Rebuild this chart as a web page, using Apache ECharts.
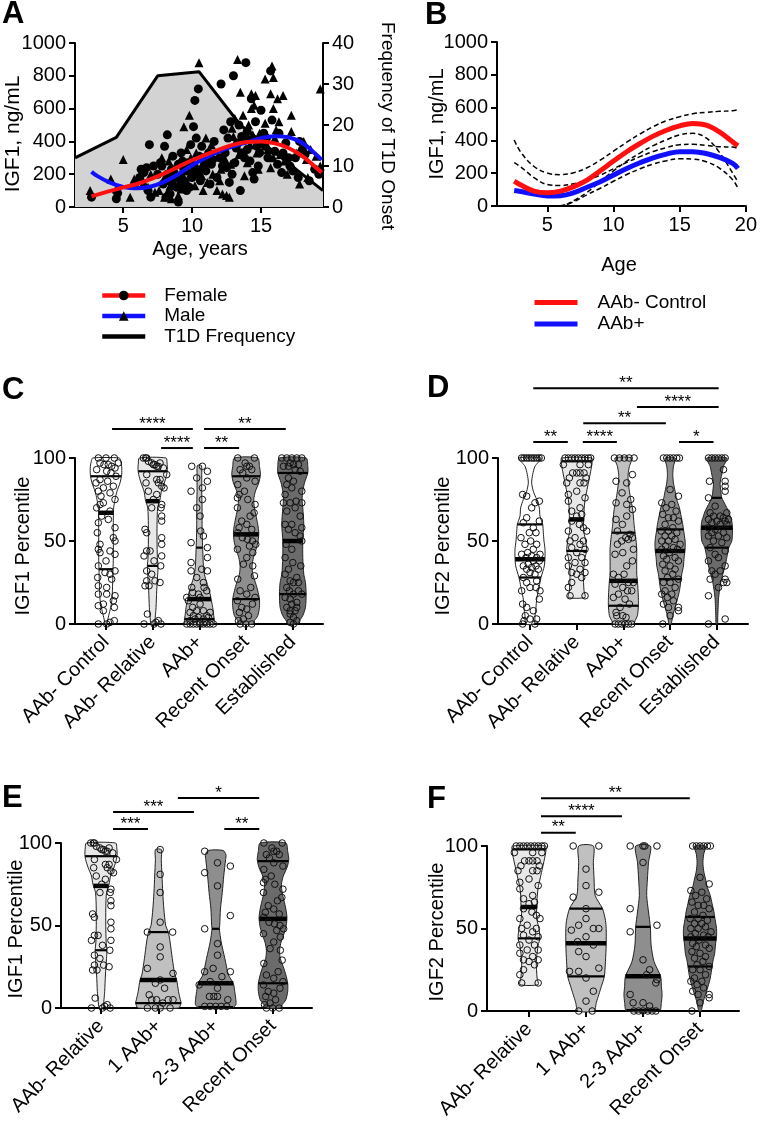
<!DOCTYPE html>
<html><head><meta charset="utf-8">
<script src="https://cdn.jsdelivr.net/npm/echarts@6/dist/echarts.min.js"></script>
<style>html,body{margin:0;padding:0;background:#fff}#c{width:760px;height:1123px}</style>
</head><body><div id="c"></div>
<script>
// ---------------- Panel A data ----------------
const ageTicksA = [5, 10, 15];
const t1dAges = [1.5, 4.5, 7.5, 10.5, 13.5, 16.5, 19.5];
const t1dFreq = [12, 17, 32, 33, 20, 12, 4];
const femalePts = [
[2.7,60],[4.5,50],[4.6,85],
[5.8,130],[6.2,180],[6.5,210],[6.7,240],[6.8,100],[6.9,380],[7.0,60],[7.2,250],[6.3,230],
[7.5,200],[7.7,270],[7.8,250],[8.0,370],[8.2,440],[8.3,160],[8.5,230],[8.6,310],[8.8,180],[8.9,120],[9.0,30],[9.0,260],[8.4,80],[7.9,140],[8.1,60],
[9.2,330],[9.4,230],[9.5,150],[9.7,270],[9.8,120],[10.0,200],[10.2,650],[10.45,720],[10.1,490],[10.3,420],[10.5,310],[10.7,370],[10.9,260],[9.6,100],[10.0,180],[10.6,160],[11.0,220],[9.3,280],[9.9,380],
[11.5,290],[11.8,180],[12.1,750],[12.3,470],[12.5,240],[12.6,420],[12.8,520],[13.0,800],[12.9,200],[11.6,400],[12.2,250],[13.2,360],
[13.5,100],[13.9,880],[13.4,500],[13.6,430],[13.8,300],[14.0,350],[14.2,280],[14.4,210],[14.6,520],[14.8,250],[15.0,590],[14.3,660],[13.3,390],[14.1,410],[14.7,370],[14.5,170],
[15.7,830],[15.3,370],[15.5,300],[15.8,530],[16.0,340],[16.2,260],[16.5,210],[16.8,390],[15.2,450],[16.3,450],[17.0,300],[17.3,220],
[17.5,300],[17.8,400],[18.2,320],[18.5,160],[18.9,230],[19.2,200],[17.7,180],[18.0,350],
[8.2,200],[8.7,210],[9.1,170],[9.3,140],[9.6,220],[9.9,260],[10.2,240],[10.4,200],[10.8,300],[11.2,330],[11.4,260],[12.0,300],[12.4,330],[13.1,270],[13.6,330],[14.0,460],[14.9,330],[15.4,420],[16.6,330],[17.1,250],[12.7,150],[11.3,140]
];
const malePts = [
[2.6,100],[4.1,170],[4.5,110],[5.5,60],[5.0,290],
[5.8,170],[6.5,150],[6.8,120],[7.0,200],[7.3,90],
[7.6,100],[7.8,300],[8.0,60],[8.2,90],[8.5,50],[8.7,150],[9.0,70],[9.3,200],[8.3,280],
[9.4,490],[9.8,560],[10.5,880],[9.8,190],[10.2,130],[10.6,240],[11.0,420],[10.8,100],[11.2,300],[9.6,350],
[11.8,100],[12.2,80],[12.5,70],[12.7,60],[12.4,290],[12.9,480],[13.1,540],[12.0,160],[11.5,200],
[13.3,900],[13.5,700],[13.7,560],[14.3,690],[14.1,500],[14.3,600],[14.5,620],[14.0,270],[14.7,330],[13.6,410],[14.9,450],[14.2,380],[13.8,190],[14.6,680],
[15.8,860],[15.9,790],[15.3,780],[16.2,660],[15.7,690],[16.6,680],[15.9,600],[15.3,510],[16.1,470],[16.4,320],[16.7,280],[17.2,560],[17.2,460],[17.4,230],[15.7,240],[16.9,200],
[19.3,720],[17.8,140],[18.3,290],[18.6,350],[19.0,310],[19.3,250],[18.1,400],
[8.0,180],[8.4,130],[9.2,110],[9.5,250],[9.9,300],[10.3,330],[10.7,190],[11.4,380],[12.1,230],[13.0,430],[13.4,320],[14.4,440],[15.1,400],[15.5,350],[16.0,420],[16.3,520],[17.6,330],[18.4,180],[12.8,260],[11.1,150],[14.8,230],[15.9,300]
];
const fitAgesA = [2.7,3,4,5,6,7,8,9,10,11,12,13,14,15,16,17,18,19,19.4];
const femaleFit = [65,72,97,120,140,170,205,245,285,320,352,380,397,400,388,360,310,240,210];
const maleFit = [215,195,150,122,114,125,155,200,255,300,340,370,395,420,432,425,390,320,287];

// ---------------- Panel B data ----------------
const ageTicksB = [5, 10, 15, 20];
const fitAgesB = [2.5,3,4,5,6,7,8,9,10,11,12,13,14,15,16,17,18,19,19.4];
const ctrlFit   = [152,128,91,81,91,118,158,215,274,331,381,426,462,489,503,493,452,391,367];
const aabFit    = [94,88,73,61,63,81,114,148,189,229,264,294,316,331,331,320,296,260,229];
const ctrlUpper = [402,328,241,201,191,203,233,280,334,389,439,484,520,544,563,571,577,581,587];
const ctrlLower = [-98,-72,-59,-39,-9,33,83,150,214,273,323,368,404,434,443,415,327,201,147];
const aabUpper  = [264,238,173,131,125,136,159,188,227,266,301,332,356,374,376,370,361,360,349];
const aabLower  = [-76,-62,-27,-9,1,26,69,108,151,192,227,256,276,288,286,270,231,160,109];

// ---------------- Violin panels: categories ----------------
const catsCD = ['AAb- Control','AAb- Relative','AAb+','Recent Onset','Established'];
const catsEF = ['AAb- Relative','1 AAb+','2-3 AAb+','Recent Onset'];
const pctTicks = [0, 50, 100];

// shapes: [percentile, relative density]; points: [percentile, jitter]; quartiles: [Q1, median, Q3]
const igf1CtrlShape = [[0,2],[5,8],[10,14],[15,18],[25,20],[33,21],[40,22],[50,22],[60,22],[65,22],[70,23],[75,27],[80,33],[85,42],[90,47],[95,47],[98,44],[100,40]];
const igf1CtrlQ = [33,67,89];
const igf1CtrlPts = [[100,-23],[100,0],[100,25],[97,-18],[96,-6],[96,7],[95,17],[94,27],[97,37],[93,-28],[92,2],[91,15],[89,30],[87,-18],[86,5],[85,-30],[83,22],[82,-8],[80,-23],[79,12],[77,-15],[75,27],[73,-8],[72,-18],[70,-28],[68,12],[65,-13],[63,7],[61,-23],[58,27],[55,-26],[52,22],[50,27],[48,-18],[45,-23],[44,12],[43,-18],[42,27],[38,0],[35,-23],[32,27],[31,-3],[30,12],[28,-25],[27,17],[23,-23],[22,2],[18,-23],[18,2],[17,27],[14,22],[12,-8],[11,-23],[10,25],[8,-8],[2,25],[1,12],[0,-23],[0,2]];

const igf1RelShape = [[0,5],[5,8],[10,10],[20,12],[30,15],[35,16],[40,14],[50,13],[60,13],[70,15],[75,22],[80,26],[85,35],[90,42],[93,44],[97,43],[100,40]];
const igf1RelQ = [35,74,92];
const igf1RelPts = [[100,-28],[100,-21],[100,-18],[98,-13],[97,-3],[96,2],[96,7],[95,12],[95,17],[97,22],[94,32],[90,-18],[90,42],[87,12],[87,22],[85,-20],[85,17],[83,27],[82,34],[80,-13],[78,12],[75,2],[72,27],[70,-3],[70,25],[65,27],[62,27],[57,-23],[55,-18],[52,27],[48,27],[44,-18],[44,-8],[41,-26],[41,27],[38,4],[35,24],[32,-18],[30,-3],[26,-18],[26,7],[25,22],[23,-23],[23,-11],[6,-16],[2,17],[1,10],[0,-26],[0,4],[0,25]];

const igf1AabShape = [[0,42],[2,45],[5,43],[10,40],[15,35],[20,30],[25,22],[30,15],[35,12],[45,10],[50,9],[60,8],[70,8],[80,7],[90,7],[95.5,6]];
const igf1AabQ = [3,15,46];
const igf1AabPts = [[95,-23],[95,9],[92,24],[88,-8],[86,24],[82,9],[80,-25],[75,9],[70,-8],[65,2],[56,4],[53,12],[49,-25],[46,24],[40,24],[37,-25],[33,7],[32,-25],[32,24],[28,-8],[25,12],[22,-23],[22,14],[20,22],[19,-20],[18,-3],[16,-38],[16,2],[14,-33],[12,2],[10,-20],[8,-8],[8,12],[7,-28],[7,32],[5,-18],[5,22],[4,-3],[4,27],[3,-13],[3,12],[2,-28],[1,2],[1,17],[0,-38],[0,-28],[0,-18],[0,-8],[0,2],[0,12],[0,22],[0,32],[0,42]];

const igf1RecShape = [[0,20],[2,25],[5,35],[10,40],[15,40],[20,35],[25,28],[30,20],[35,18],[40,22],[45,30],[50,36],[55,38],[60,35],[65,30],[70,25],[75,23],[80,28],[85,38],[90,43],[95,40],[100,35]];
const igf1RecQ = [15,54,89];
const igf1RecPts = [[100,-25],[100,25],[97,-3],[95,2],[95,10],[93,-18],[93,17],[91,-10],[88,2],[86,27],[84,-25],[80,-5],[78,-21],[76,-26],[75,5],[72,27],[70,-26],[67,24],[65,12],[62,-13],[60,2],[58,-21],[57,17],[55,-25],[52,-11],[51,4],[50,19],[48,29],[47,10],[45,-26],[43,20],[40,2],[36,-8],[35,20],[29,25],[27,-25],[22,14],[20,-18],[18,2],[16,27],[14,-26],[12,19],[10,-13],[9,2],[7,-20],[5,7],[3,-8],[2,-23],[0,-18],[0,-1],[0,17]];

const igf1EstShape = [[0,15],[2,20],[5,30],[10,38],[18,40],[25,38],[30,33],[40,30],[50,30],[60,33],[70,30],[75,28],[80,30],[85,35],[91,45],[95,45],[100,40]];
const igf1EstQ = [18,50,91];
const igf1EstPts = [[100,-33],[100,-18],[100,-3],[100,12],[100,27],[97,-8],[96,2],[96,17],[95,-28],[95,-13],[93,7],[92,22],[88,-13],[86,2],[84,-18],[82,-3],[80,27],[78,-23],[74,10],[73,-28],[73,-8],[73,27],[70,7],[68,-18],[65,22],[60,-23],[60,-3],[58,27],[57,-13],[55,7],[53,22],[50,27],[48,-20],[45,-3],[40,-23],[37,0],[35,24],[33,-13],[30,-23],[28,12],[26,-8],[25,2],[25,17],[22,-18],[20,-10],[20,17],[18,2],[18,27],[16,-23],[15,-8],[13,12],[12,-3],[10,-18],[10,12],[8,-8],[8,7],[6,-8],[4,2],[2,12],[1,-8],[0,2]];

const igf1OneShape = [[0,55],[3,62],[5,60],[10,55],[17,50],[20,45],[30,38],[40,32],[46,27],[50,20],[60,15],[70,12],[80,10],[90,8],[96,8]];
const igf1OneQ = [3,17,46];
const igf1OnePts = [[96,5],[81,5],[70,5],[52,5],[46,-30],[46,39],[37,5],[31,5],[24,-30],[21,40],[17,5],[15,-8],[12,17],[8,-25],[5,-18],[5,-5],[5,27],[5,40],[3,12],[0,-30],[0,-8],[0,5],[0,32]];

const igf1TwoShape = [[0,45],[2,55],[5,55],[10,52],[15,48],[20,35],[30,25],[40,15],[48,10],[50,11],[60,13],[70,18],[80,22],[90,27],[93,28],[95.5,20]];
const igf1TwoQ = [0.5,15,48];
const igf1TwoPts = [[95,-30],[88,5],[86,40],[82,-30],[74,5],[56,40],[48,-30],[39,5],[32,5],[24,-7],[22,-30],[22,40],[19,17],[16,-15],[14,-45],[12,5],[7,-17],[7,-5],[7,5],[5,33],[1,-30],[1,-15],[1,0],[1,15],[1,30]];

const igf2CtrlShape = [[0,12],[5,15],[10,18],[15,20],[20,25],[25,30],[28,33],[35,43],[40,45],[45,45],[50,42],[55,40],[60,38],[65,30],[70,28],[75,20],[80,10],[85,5],[90,8],[95,15],[100,33]];
const igf2CtrlQ = [28,39,60];
const igf2CtrlPts = [[100,-25],[100,-18],[100,-10],[100,-3],[100,5],[100,12],[100,20],[100,27],[100,34],[78,-22],[77,-10],[74,28],[73,15],[70,5],[64,-10],[62,28],[61,-20],[58,10],[55,-2],[55,18],[52,-27],[50,2],[48,-15],[48,20],[45,10],[43,-7],[42,-25],[42,30],[41,5],[40,-12],[40,20],[38,10],[38,28],[36,-5],[35,-20],[35,18],[34,5],[33,-10],[33,25],[31,0],[30,15],[28,-20],[26,20],[25,-10],[22,0],[22,18],[20,-25],[20,30],[15,28],[12,-22],[10,-10],[8,10],[5,-14],[3,0],[3,20],[2,-18],[0,-22],[0,15]];

const igf2RelShape = [[16,25],[20,22],[30,20],[40,25],[44,30],[50,27],[55,22],[60,20],[63,22],[68,22],[75,25],[80,30],[85,35],[92,42],[97,46],[100,45]];
const igf2RelQ = [44,63,98];
const igf2RelPts = [[100,-35],[100,-25],[100,-15],[100,-5],[100,5],[100,15],[100,25],[100,35],[100,42],[96,-40],[96,10],[96,35],[91,-12],[91,0],[91,10],[91,22],[88,-22],[88,28],[85,-30],[85,10],[85,22],[80,0],[78,-25],[76,25],[74,-25],[70,10],[68,-15],[66,15],[65,0],[62,-15],[60,8],[58,20],[56,-25],[56,30],[52,-5],[50,-20],[50,20],[48,10],[46,-15],[45,25],[43,0],[40,-25],[40,15],[37,-5],[37,25],[35,-25],[33,10],[31,-15],[31,25],[30,0],[28,15],[25,-15],[22,-25],[17,-20],[17,25]];

const igf2AabShape = [[0,30],[2,35],[5,42],[11,45],[15,45],[20,44],[26,42],[30,40],[40,40],[45,40],[50,38],[55,35],[60,32],[65,30],[70,27],[75,22],[80,18],[85,15],[90,14],[95,18],[100,25]];
const igf2AabQ = [11,26,55];
const igf2AabPts = [[100,-27],[100,-12],[100,3],[100,17],[100,32],[90,27],[86,-22],[85,10],[79,-4],[75,22],[73,-22],[72,10],[69,27],[65,10],[63,-22],[60,-3],[56,-18],[54,20],[52,7],[52,27],[51,15],[50,-5],[48,-18],[45,30],[43,-2],[42,-25],[38,27],[35,10],[30,-30],[30,2],[28,-15],[25,15],[25,30],[24,-25],[22,-2],[20,12],[20,25],[18,-15],[16,-30],[15,5],[12,18],[10,-10],[7,-22],[5,-20],[5,-2],[4,8],[0,-25],[0,-15],[0,-5],[0,5],[0,15],[0,25]];

const igf2RecShape = [[0,3],[5,8],[10,15],[15,22],[20,28],[27,33],[30,35],[35,40],[40,42],[45,45],[50,45],[57,40],[60,38],[65,33],[70,28],[75,20],[80,15],[85,10],[90,8],[95,10],[100,15]];
const igf2RecQ = [27,44,57];
const igf2RecPts = [[100,-20],[100,-10],[100,0],[100,10],[100,20],[100,28],[81,0],[77,25],[73,-25],[72,5],[70,-12],[68,18],[66,-22],[64,-5],[64,10],[62,25],[60,-15],[58,8],[56,-27],[56,-5],[55,20],[53,-15],[53,5],[51,15],[50,-25],[50,-5],[48,30],[47,-13],[46,10],[45,-25],[45,22],[43,-2],[41,-20],[40,15],[39,-10],[38,25],[36,-22],[35,0],[33,15],[32,-15],[30,8],[28,-8],[27,25],[25,-20],[25,0],[22,15],[20,-15],[18,5],[18,-25],[16,-8],[14,10],[12,-20],[10,-5],[10,25],[8,25],[5,0],[0,-22]];

const igf2EstShape = [[0,2],[5,3],[10,4],[15,5],[20,8],[25,12],[30,18],[35,25],[40,30],[46,36],[50,45],[55,47],[58,47],[62,45],[65,40],[68,35],[72,25],[76,15],[80,12],[85,10],[90,15],[95,20],[100,30]];
const igf2EstQ = [46,58,76];
const igf2EstPts = [[100,-25],[100,-15],[100,-5],[100,5],[100,15],[100,25],[93,20],[86,-22],[86,25],[83,25],[80,25],[76,-25],[71,-5],[67,-20],[67,30],[65,-10],[65,10],[64,20],[63,-25],[63,35],[62,0],[62,25],[61,-15],[60,10],[60,30],[58,-25],[57,-5],[55,-15],[55,20],[53,-25],[53,5],[52,30],[50,-10],[49,15],[46,-20],[44,25],[42,-5],[40,5],[38,-25],[35,25],[32,-15],[32,10],[30,-5],[27,-20],[27,25],[25,20],[25,30],[22,5],[17,-25],[3,25],[0,-25]];

const igf2OneShape = [[0,22],[5,28],[10,35],[15,42],[21,50],[30,53],[40,55],[50,55],[55,53],[62,45],[70,25],[80,22],[90,20],[100,20]];
const igf2OneQ = [21,41,62];
const igf2OnePts = [[100,-35],[100,35],[86,0],[76,0],[72,35],[69,-35],[62,0],[56,0],[52,-20],[50,20],[50,35],[49,-40],[45,0],[42,-23],[40,20],[36,-20],[33,0],[26,35],[24,-45],[24,-20],[20,0],[12,20],[6,0],[0,-20],[0,17]];

const igf2TwoShape = [[0,45],[5,50],[10,52],[15,50],[21,48],[30,30],[40,22],[51,20],[60,15],[70,10],[80,12],[90,15],[100,20]];
const igf2TwoQ = [0.5,21,51];
const igf2TwoPts = [[100,-35],[100,0],[100,5],[100,38],[90,0],[62,-35],[52,38],[48,-35],[31,0],[25,18],[22,10],[19,38],[17,35],[10,-35],[5,-27],[5,0],[3,18],[0,-25],[0,-12],[0,0],[0,13],[0,25],[0,35]];

// significance brackets: [from category, to category, percentile level]
const sigC = [[0.13,1.86,117.5],[1.18,1.86,106],[2.1,3.85,117.5],[2.1,2.85,106]];
const sigCLabels = ['****','****','**','**'];
const sigD = [[0.07,4.04,142],[2.29,4.04,130.7],[1.14,2.91,121],[0.07,0.81,109.6],[1.13,1.86,109.6],[3.19,3.93,109.6]];
const sigDLabels = ['**','****','**','**','****','*'];
const sigE = [[1.34,2.76,127.3],[0.21,1.62,118.8],[0.21,0.82,108.5],[2.15,2.76,108.5]];
const sigELabels = ['*','***','***','**'];
const sigF = [[0.21,2.82,129],[0.21,1.63,118],[0.21,0.82,108]];
const sigFLabels = ['**','****','**'];

// ---------------- rendering ----------------
const FONT = '"Liberation Sans", Arial, sans-serif';
const DENS_PX = 1/3;
const JIT_PX = 1/3;
const greys5 = ['#ffffff','#e8e8e8','#c0c0c0','#8e8e8e','#6b6b6b'];
const greys4 = ['#e8e8e8','#c0c0c0','#8e8e8e','#6b6b6b'];

const panelC = [
  {shape: igf1CtrlShape, pts: igf1CtrlPts, q: igf1CtrlQ},
  {shape: igf1RelShape, pts: igf1RelPts, q: igf1RelQ},
  {shape: igf1AabShape, pts: igf1AabPts, q: igf1AabQ},
  {shape: igf1RecShape, pts: igf1RecPts, q: igf1RecQ},
  {shape: igf1EstShape, pts: igf1EstPts, q: igf1EstQ}];
const panelD = [
  {shape: igf2CtrlShape, pts: igf2CtrlPts, q: igf2CtrlQ},
  {shape: igf2RelShape, pts: igf2RelPts, q: igf2RelQ},
  {shape: igf2AabShape, pts: igf2AabPts, q: igf2AabQ},
  {shape: igf2RecShape, pts: igf2RecPts, q: igf2RecQ},
  {shape: igf2EstShape, pts: igf2EstPts, q: igf2EstQ}];
const panelE = [
  {shape: igf1RelShape, pts: igf1RelPts, q: igf1RelQ},
  {shape: igf1OneShape, pts: igf1OnePts, q: igf1OneQ},
  {shape: igf1TwoShape, pts: igf1TwoPts, q: igf1TwoQ},
  {shape: igf1RecShape, pts: igf1RecPts, q: igf1RecQ}];
const panelF = [
  {shape: igf2RelShape, pts: igf2RelPts, q: igf2RelQ},
  {shape: igf2OneShape, pts: igf2OnePts, q: igf2OneQ},
  {shape: igf2TwoShape, pts: igf2TwoPts, q: igf2TwoQ},
  {shape: igf2RecShape, pts: igf2RecPts, q: igf2RecQ}];

function interpW(shape, v) {
  if (v <= shape[0][0]) return shape[0][1];
  for (let k = 0; k < shape.length - 1; k++) {
    const a = shape[k], b = shape[k + 1];
    if (v >= a[0] && v <= b[0]) return a[1] + (b[1] - a[1]) * (v - a[0]) / (b[0] - a[0]);
  }
  return shape[shape.length - 1][1];
}

function violinSeries(panel, colors, xi, yi, scale) {
  return {
    type: 'custom', xAxisIndex: xi, yAxisIndex: yi, silent: true,
    data: panel.map((d, i) => [i, 0]),
    encode: {x: 0, y: 1},
    renderItem: function (params, api) {
      const i = api.value(0);
      const v = panel[i];
      const cx = api.coord([i, 0])[0];
      const poly = [];
      v.shape.forEach(s => poly.push([cx + s[1] * DENS_PX * scale, api.coord([i, s[0]])[1]]));
      for (let k = v.shape.length - 1; k >= 0; k--) {
        const s = v.shape[k];
        poly.push([cx - s[1] * DENS_PX * scale, api.coord([i, s[0]])[1]]);
      }
      const children = [{type: 'polygon', shape: {points: poly, smooth: 0.25},
        style: {fill: colors[i], stroke: '#222', lineWidth: 1}}];
      v.q.forEach((qv, qi) => {
        const w = interpW(v.shape, qv) * DENS_PX * scale;
        const y = api.coord([i, qv])[1];
        children.push({type: 'line', shape: {x1: cx - w, y1: y, x2: cx + w, y2: y},
          style: {stroke: '#000', lineWidth: qi === 1 ? 4.5 : 2.2}});
      });
      v.pts.forEach(p => {
        const y = api.coord([i, p[0]])[1];
        children.push({type: 'circle', shape: {cx: cx + p[1] * JIT_PX * scale, cy: y, r: 3.3},
          style: {fill: 'none', stroke: '#111', lineWidth: 1}});
      });
      return {type: 'group', children: children};
    }
  };
}

function sigSeries(data, labels, xi, yi) {
  return {
    type: 'custom', xAxisIndex: xi, yAxisIndex: yi, silent: true,
    data: data, encode: {x: [0, 1], y: 2},
    renderItem: function (params, api) {
      const p1 = api.coord([api.value(0), api.value(2)]);
      const p2 = api.coord([api.value(1), api.value(2)]);
      return {type: 'group', children: [
        {type: 'line', shape: {x1: p1[0], y1: p1[1], x2: p2[0], y2: p2[1]}, style: {stroke: '#000', lineWidth: 2}},
        {type: 'text', x: (p1[0] + p2[0]) / 2, y: p1[1] - 5,
          style: {text: labels[params.dataIndex], fill: '#000', font: '17px ' + FONT, align: 'center', verticalAlign: 'middle'}}
      ]};
    }
  };
}

function axis(o) {
  const base = {
    splitLine: {show: false}, minorTick: {show: false},
    axisLine: {show: true, onZero: false, lineStyle: {color: '#000', width: 2}},
    axisTick: {show: true, inside: false, length: 6, lineStyle: {color: '#000', width: 2}},
    axisLabel: {show: true, color: '#000', fontSize: 20, fontFamily: FONT, margin: 9, formatter: v => String(v)}
  };
  const r = Object.assign({}, base, o);
  r.axisTick = Object.assign({}, base.axisTick, o.axisTick || {});
  r.axisLabel = Object.assign({}, base.axisLabel, o.axisLabel || {});
  r.axisLine = Object.assign({}, base.axisLine, o.axisLine || {});
  return r;
}

function zip(xs, ys) { return xs.map((x, k) => [x, ys[k]]); }
function catAxis(grid, min, max, cats) {
  const vals = cats.map((c, i) => i);
  return axis({gridIndex: grid, type: 'value', min: min, max: max,
    axisTick: {customValues: vals},
    axisLabel: {customValues: vals, rotate: 45, margin: 15, formatter: v => cats[Math.round(v)]}});
}

const chart = echarts.init(document.getElementById('c'), null, {renderer: 'canvas'});
const titleFont = s => s + 'px ' + FONT;
const noSym = {color: 'rgba(0,0,0,0)', borderColor: 'rgba(0,0,0,0)', borderWidth: 0, opacity: 0};

const option = {
  animation: false,
  backgroundColor: '#fff',
  textStyle: {fontFamily: FONT},
  grid: [
    {left: 75, top: 43, width: 248, height: 164},
    {left: 497, top: 42, width: 251, height: 164},
    {left: 75, top: 458, width: 248, height: 166},
    {left: 498, top: 458, width: 250, height: 166},
    {left: 61, top: 843, width: 251, height: 165},
    {left: 487, top: 846, width: 252, height: 165}
  ],
  xAxis: [
    axis({gridIndex: 0, type: 'value', min: 1.5, max: 19.5, axisTick: {customValues: ageTicksA}, axisLabel: {customValues: ageTicksA}}),
    axis({gridIndex: 1, type: 'value', min: 1.2, max: 20, axisTick: {customValues: ageTicksB}, axisLabel: {customValues: ageTicksB}}),
    catAxis(2, -0.664, 4.647, catsCD),
    catAxis(3, -0.685, 4.668, catsCD),
    catAxis(4, -0.698, 3.68, catsEF),
    catAxis(5, -0.737, 3.684, catsEF)
  ],
  yAxis: [
    axis({gridIndex: 0, type: 'value', min: 0, max: 1000, interval: 200}),
    axis({gridIndex: 0, type: 'value', min: 0, max: 40, interval: 10, position: 'right'}),
    axis({gridIndex: 1, type: 'value', min: 0, max: 1000, interval: 200}),
    axis({gridIndex: 2, type: 'value', min: 0, max: 100, axisTick: {customValues: pctTicks}, axisLabel: {customValues: pctTicks}}),
    axis({gridIndex: 3, type: 'value', min: 0, max: 100, axisTick: {customValues: pctTicks}, axisLabel: {customValues: pctTicks}}),
    axis({gridIndex: 4, type: 'value', min: 0, max: 100, axisTick: {customValues: pctTicks}, axisLabel: {customValues: pctTicks}}),
    axis({gridIndex: 5, type: 'value', min: 0, max: 100, axisTick: {customValues: pctTicks}, axisLabel: {customValues: pctTicks}})
  ],
  legend: [
    {data: ['Female', 'Male', {name: 'T1D Frequency', itemStyle: noSym}], orient: 'vertical', left: 100, top: 286, padding: 0,
      itemWidth: 43, itemHeight: 12, itemGap: 1.5, selectedMode: false, lineStyle: {width: 4.5},
      textStyle: {fontSize: 19, color: '#000', fontFamily: FONT, padding: [0, 0, 0, 14]}},
    {data: [{name: 'AAb- Control', itemStyle: noSym}, {name: 'AAb+', itemStyle: noSym}], orient: 'vertical', left: 532, top: 293, padding: 0,
      itemWidth: 43, itemHeight: 12, itemGap: 2.5, selectedMode: false, lineStyle: {width: 5},
      textStyle: {fontSize: 19, color: '#000', fontFamily: FONT, padding: [0, 0, 0, 15]}}
  ],
  graphic: [
    {type: 'text', x: 2, y: 14, style: {text: 'A', font: 'bold ' + titleFont(31), fill: '#000', align: 'left', verticalAlign: 'middle'}},
    {type: 'text', x: 425, y: 15, style: {text: 'B', font: 'bold ' + titleFont(31), fill: '#000', align: 'left', verticalAlign: 'middle'}},
    {type: 'text', x: 2, y: 390, style: {text: 'C', font: 'bold ' + titleFont(31), fill: '#000', align: 'left', verticalAlign: 'middle'}},
    {type: 'text', x: 427, y: 388, style: {text: 'D', font: 'bold ' + titleFont(31), fill: '#000', align: 'left', verticalAlign: 'middle'}},
    {type: 'text', x: 2, y: 798, style: {text: 'E', font: 'bold ' + titleFont(31), fill: '#000', align: 'left', verticalAlign: 'middle'}},
    {type: 'text', x: 427, y: 799, style: {text: 'F', font: 'bold ' + titleFont(31), fill: '#000', align: 'left', verticalAlign: 'middle'}},
    {type: 'text', x: 13, y: 134, rotation: Math.PI / 2, style: {text: 'IGF1, ng/mL', font: titleFont(21), fill: '#000', align: 'center', verticalAlign: 'middle'}},
    {type: 'text', x: 387, y: 126, rotation: -Math.PI / 2, style: {text: 'Frequency of T1D Onset', font: titleFont(19), fill: '#000', align: 'center', verticalAlign: 'middle'}},
    {type: 'text', x: 200, y: 249, style: {text: 'Age, years', font: titleFont(20), fill: '#000', align: 'center', verticalAlign: 'middle'}},
    {type: 'text', x: 437, y: 124, rotation: Math.PI / 2, style: {text: 'IGF1, ng/mL', font: titleFont(20), fill: '#000', align: 'center', verticalAlign: 'middle'}},
    {type: 'text', x: 619, y: 265, style: {text: 'Age', font: titleFont(20), fill: '#000', align: 'center', verticalAlign: 'middle'}},
    {type: 'text', x: 23, y: 546, rotation: Math.PI / 2, style: {text: 'IGF1 Percentile', font: titleFont(20), fill: '#000', align: 'center', verticalAlign: 'middle'}},
    {type: 'text', x: 443, y: 546, rotation: Math.PI / 2, style: {text: 'IGF2 Percentile', font: titleFont(20), fill: '#000', align: 'center', verticalAlign: 'middle'}},
    {type: 'text', x: 16, y: 929, rotation: Math.PI / 2, style: {text: 'IGF1 Percentile', font: titleFont(20), fill: '#000', align: 'center', verticalAlign: 'middle'}},
    {type: 'text', x: 437, y: 932, rotation: Math.PI / 2, style: {text: 'IGF2 Percentile', font: titleFont(20), fill: '#000', align: 'center', verticalAlign: 'middle'}}
  ],
  series: [
    {name: 'T1D Frequency', type: 'line', xAxisIndex: 0, yAxisIndex: 1, data: zip(t1dAges, t1dFreq),
      symbol: 'none', lineStyle: {color: '#000', width: 3}, itemStyle: {color: '#000'},
      areaStyle: {color: '#d3d3d3', opacity: 1}, z: 1, silent: true},
    {name: 'Female data', type: 'scatter', xAxisIndex: 0, yAxisIndex: 0, data: femalePts,
      symbol: 'circle', symbolSize: 9, itemStyle: {color: '#000', opacity: 1}, z: 2, silent: true},
    {name: 'Male data', type: 'scatter', xAxisIndex: 0, yAxisIndex: 0, data: malePts,
      symbol: 'triangle', symbolSize: 9, itemStyle: {color: '#000', opacity: 1}, z: 2, silent: true},
    {name: 'Male', type: 'line', xAxisIndex: 0, yAxisIndex: 0, data: zip(fitAgesA, maleFit), smooth: 0.4,
      symbol: 'triangle', showSymbol: false, lineStyle: {color: '#1010ff', width: 4}, itemStyle: {color: '#000'}, z: 3, silent: true},
    {name: 'Female', type: 'line', xAxisIndex: 0, yAxisIndex: 0, data: zip(fitAgesA, femaleFit), smooth: 0.4,
      symbol: 'circle', showSymbol: false, lineStyle: {color: '#ff1010', width: 4}, itemStyle: {color: '#000'}, z: 3, silent: true},
    {name: 'ctrl upper', type: 'line', xAxisIndex: 1, yAxisIndex: 2, data: zip(fitAgesB, ctrlUpper), smooth: 0.4, symbol: 'none', lineStyle: {color: '#000', width: 1.5, type: [5, 3]}, silent: true},
    {name: 'ctrl lower', type: 'line', xAxisIndex: 1, yAxisIndex: 2, data: zip(fitAgesB, ctrlLower), smooth: 0.4, symbol: 'none', lineStyle: {color: '#000', width: 1.5, type: [5, 3]}, silent: true},
    {name: 'aab upper', type: 'line', xAxisIndex: 1, yAxisIndex: 2, data: zip(fitAgesB, aabUpper), smooth: 0.4, symbol: 'none', lineStyle: {color: '#000', width: 1.5, type: [5, 3]}, silent: true},
    {name: 'aab lower', type: 'line', xAxisIndex: 1, yAxisIndex: 2, data: zip(fitAgesB, aabLower), smooth: 0.4, symbol: 'none', lineStyle: {color: '#000', width: 1.5, type: [5, 3]}, silent: true},
    {name: 'AAb+', type: 'line', xAxisIndex: 1, yAxisIndex: 2, data: zip(fitAgesB, aabFit), smooth: 0.4, symbol: 'none',
      lineStyle: {color: '#1010ff', width: 5}, itemStyle: {color: '#1010ff'}, silent: true},
    {name: 'AAb- Control', type: 'line', xAxisIndex: 1, yAxisIndex: 2, data: zip(fitAgesB, ctrlFit), smooth: 0.4, symbol: 'none',
      lineStyle: {color: '#ff1010', width: 5}, itemStyle: {color: '#ff1010'}, silent: true},
    violinSeries(panelC, greys5, 2, 3, 1),
    sigSeries(sigC, sigCLabels, 2, 3),
    violinSeries(panelD, greys5, 3, 4, 1),
    sigSeries(sigD, sigDLabels, 3, 4),
    violinSeries(panelE, greys4, 4, 5, 1.1),
    sigSeries(sigE, sigELabels, 4, 5),
    violinSeries(panelF, greys4, 5, 6, 1.1),
    sigSeries(sigF, sigFLabels, 5, 6)
  ]
};
chart.setOption(option);
</script></body></html>
